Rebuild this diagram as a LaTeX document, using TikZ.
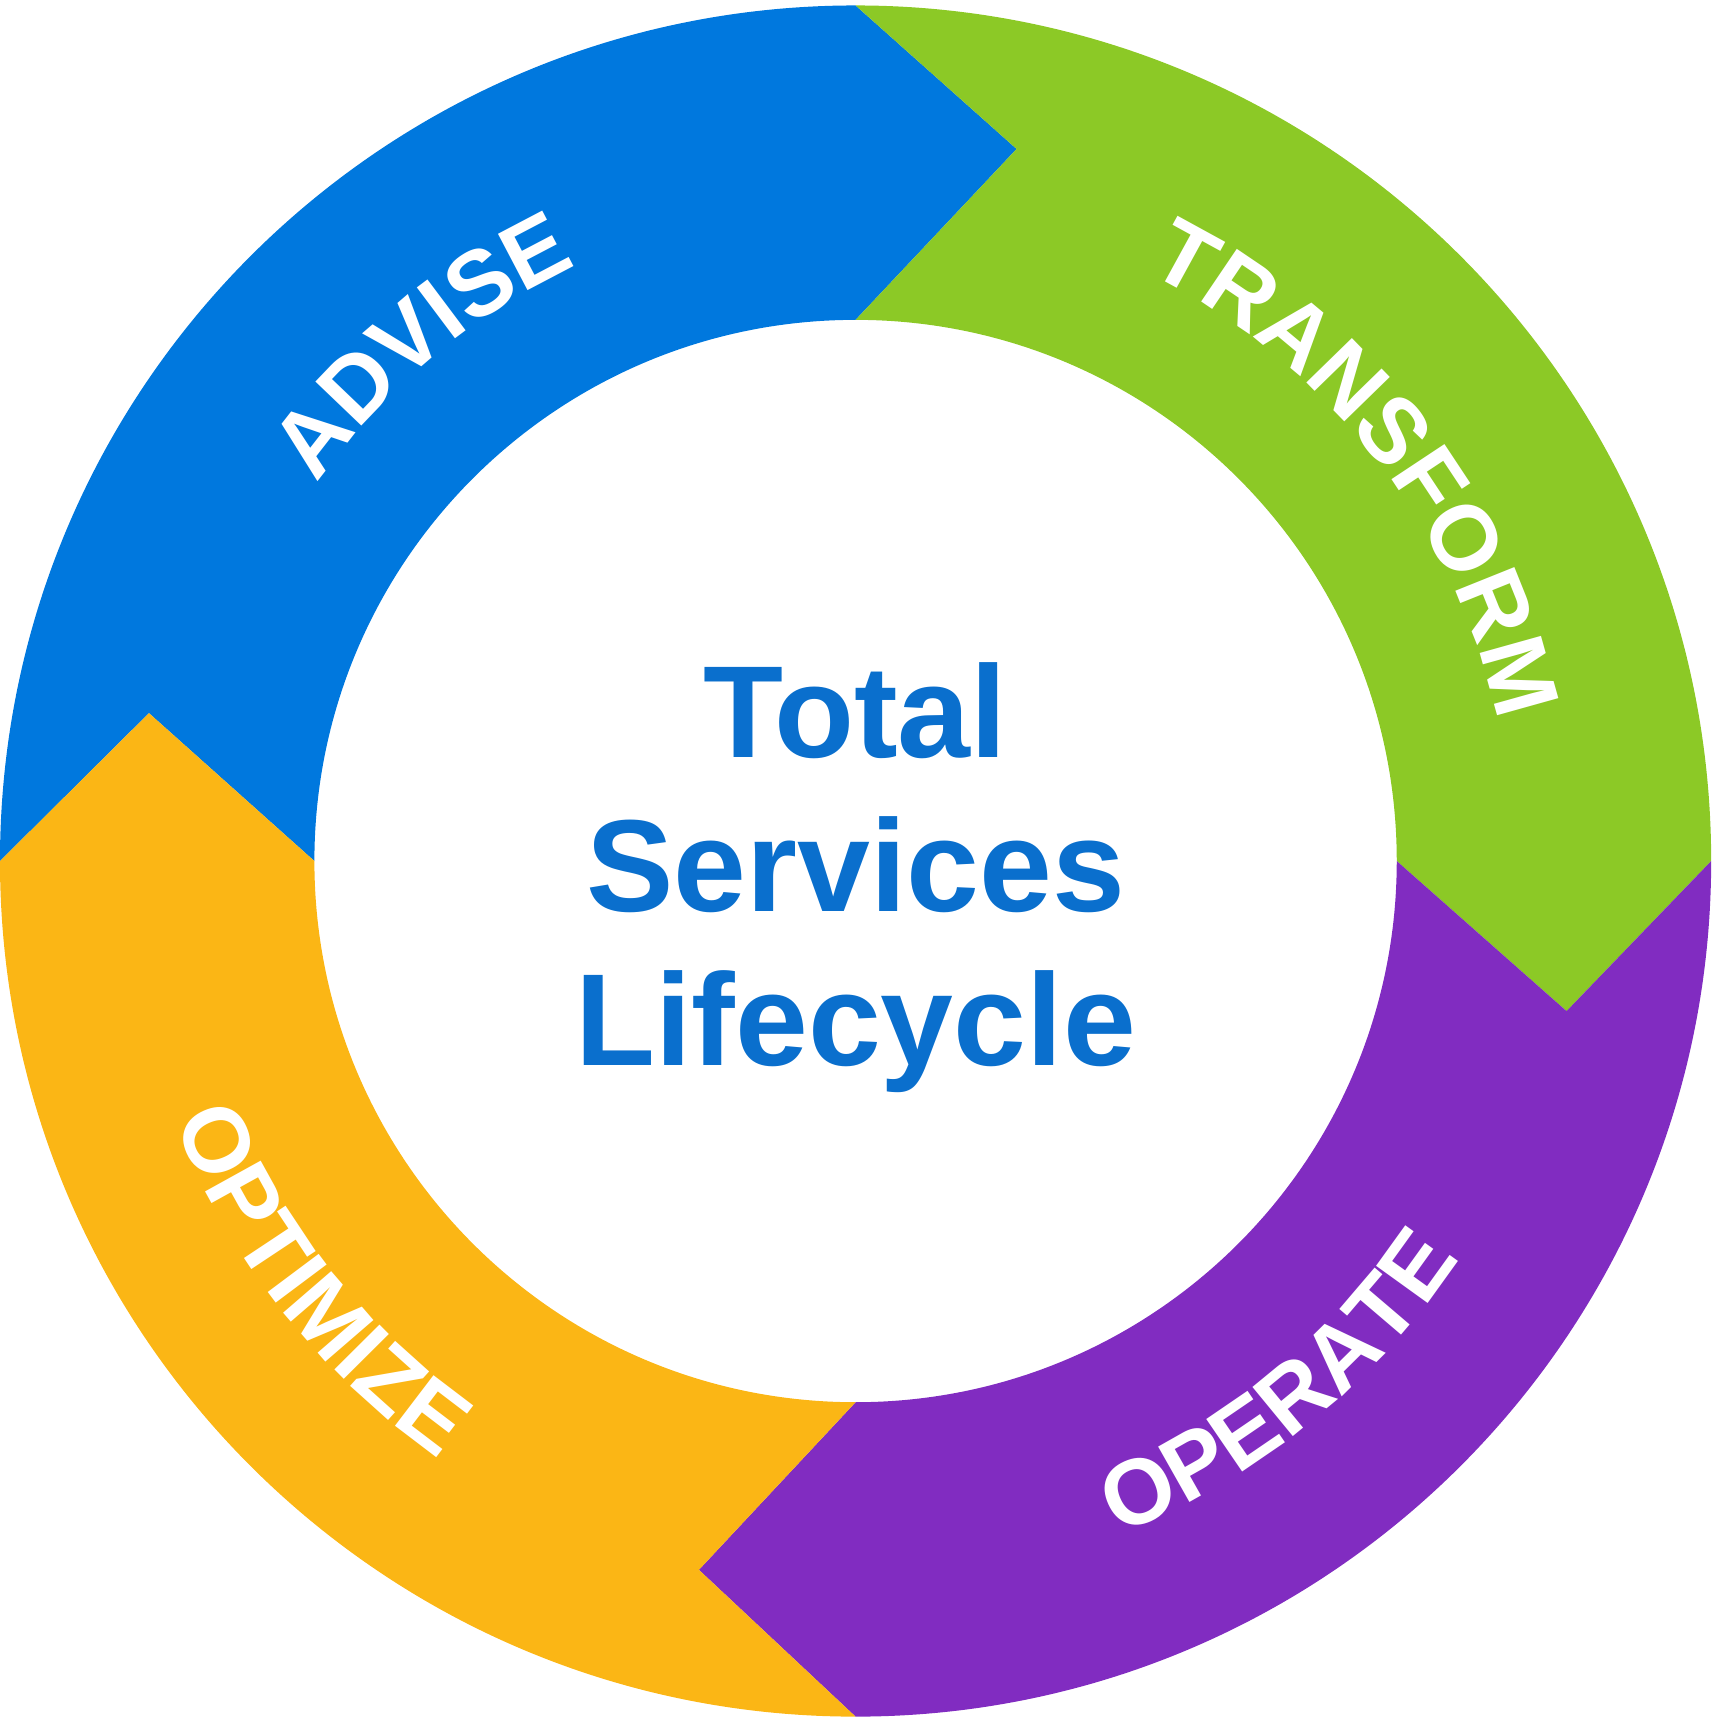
\documentclass[tikz,border=0pt]{standalone}
\usepackage{fontspec}
\setmainfont{Liberation Sans}
\usetikzlibrary{decorations.text}
\definecolor{cblue}{HTML}{0078DE}
\definecolor{cgreen}{HTML}{8CC926}
\definecolor{cpurple}{HTML}{812CC1}
\definecolor{corange}{HTML}{FBB615}
\definecolor{ctext}{HTML}{0A6FCD}
\tikzset{seg/.style={draw=none},
 lbl/.style={decorate,decoration={text along path,text align=center,text color=white,
   text={|\bfseries\fontsize{24}{24}\selectfont|#1}}}}
\begin{document}
\begin{tikzpicture}[x=0.01cm,y=0.01cm]
\useasboundingbox (-781,-785) rectangle (785,786);
\def\R{781}\def\r{494}
\fill[cblue] (180:\R) arc[start angle=180,end angle=90,radius=\R] -- (147,650) -- (90:\r) arc[start angle=90,end angle=180,radius=\r] -- (-645,135) -- cycle;
\fill[cgreen] (90:\R) arc[start angle=90,end angle=0,radius=\R] -- (649,-137) -- (0:\r) arc[start angle=0,end angle=90,radius=\r] -- (147,650) -- cycle;
\fill[cpurple] (0:\R) arc[start angle=0,end angle=-90,radius=\R] -- (-143,-647) -- (-90:\r) arc[start angle=-90,end angle=0,radius=\r] -- (649,-137) -- cycle;
\fill[corange] (-90:\R) arc[start angle=-90,end angle=-180,radius=\R] -- (-645,135) -- (-180:\r) arc[start angle=-180,end angle=-90,radius=\r] -- (-143,-647) -- cycle;
\path[lbl=ADVISE] (165:600) arc[start angle=165,end angle=95,radius=600];
\path[lbl=TRANSFORM] (85:600) arc[start angle=85,end angle=-9,radius=600];
\path[lbl=OPERATE] (-95:660) arc[start angle=-95,end angle=-7,radius=660];
\path[lbl=OPTIMIZE] (-187:665) arc[start angle=-187,end angle=-97,radius=665];
\node[text=ctext,font=\bfseries\fontsize{34}{40}\selectfont,align=center] (title) at (0,-15) {Total\\Services\\Lifecycle};
\end{tikzpicture}
\end{document}
